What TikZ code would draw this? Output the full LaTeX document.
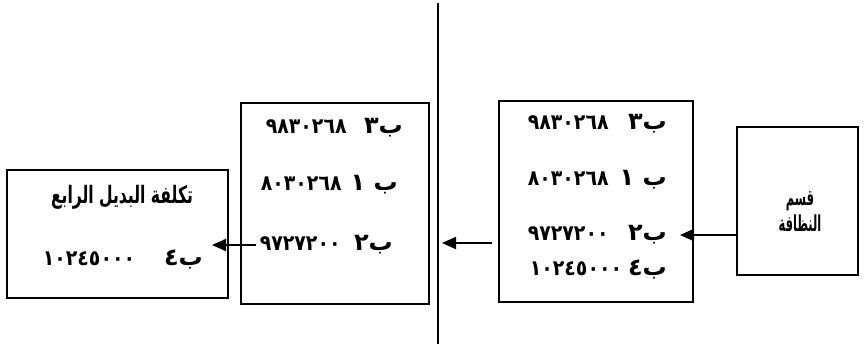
\documentclass[tikz,border=0pt]{standalone}
\usepackage{fontspec}
\usetikzlibrary{arrows.meta}
\TeXXeTstate=1
\newfontfamily\arabicfont[Script=Arabic]{DejaVu Sans}
\newfontfamily\arabicnum[Script=Arabic,FakeStretch=0.88]{DejaVu Sans}
\newfontfamily\arabictitle[Script=Arabic,FakeStretch=0.65]{DejaVu Sans}
\newfontfamily\arabicdept[Script=Arabic,FakeStretch=0.52]{DejaVu Sans}
% cost figures in a slightly smaller, condensed face
\newcommand{\cost}[1]{{\arabicnum\fontsize{21.5}{24}\selectfont\beginL #1\endL}}
\begin{document}
\begin{tikzpicture}[x=1pt,y=-1pt,
  box/.style={draw,line width=2pt,minimum width=#1},
  txt/.style={inner sep=0pt,anchor=east,font=\arabicfont\bfseries\fontsize{24}{26}\selectfont},
  dept/.style={inner sep=0pt,font=\arabicdept\bfseries\fontsize{22}{22}\selectfont},
  title/.style={inner sep=0pt,font=\arabictitle\bfseries\fontsize{24}{24}\selectfont},
  arr/.style={line width=2pt,-{Triangle[length=14pt,width=12pt]}}]
\useasboundingbox (0,0) rectangle (864,346);
% boxes
\node[box=221pt,minimum height=128pt] (box1) at (117.5,234) {};
\node[box=188pt,minimum height=201pt] (box2) at (335,203.5) {};
\node[box=194pt,minimum height=201pt] (box3) at (596,201.5) {};
\node[box=121pt,minimum height=148pt] (box4) at (797.5,201) {};
% divider
\coordinate (dtop) at (438,3);
\coordinate (dbot) at (438,344);
\draw[line width=2.4pt] (dtop) -- (dbot);
% department box
\node[dept] (d1) at (800,201) {\beginR قسم\endR};
\node[dept] (d2) at (800,223) {\beginR النظافة\endR};
% first list: alternative code at the right, its cost at the left
\node[txt] (c1) at (667,124) {\hbox to 139pt{\beginR ب٣\hfill\cost{٩٨٣٠٢٦٨}\endR}};
\node[txt] (c2) at (667,180) {\hbox to 139pt{\beginR ب ١\hfill\cost{٨٠٣٠٢٦٨}\endR}};
\node[txt] (c3) at (667,235) {\hbox to 139pt{\beginR ب٢\hfill\cost{٩٧٢٧٢٠٠}\endR}};
\node[txt] (c4) at (667,270) {\hbox to 137pt{\beginR ب٤\hfill\cost{١٠٢٤٥٠٠٠}\endR}};
% second list
\node[txt] (b1) at (403,128) {\hbox to 137pt{\beginR ب٣\hfill\cost{٩٨٣٠٢٦٨}\endR}};
\node[txt] (b2) at (398,185) {\hbox to 137pt{\beginR ب ١\hfill\cost{٨٠٣٠٢٦٨}\endR}};
\node[txt] (b3) at (393,245) {\hbox to 133pt{\beginR ب٢\hfill\cost{٩٧٢٧٢٠٠}\endR}};
% result box
\node[title] (r1) at (122,197) {\beginR تكلفة البديل الرابع\endR};
\node[txt] (r2) at (203,260) {\hbox to 160pt{\beginR ب٤\hfill\cost{١٠٢٤٥٠٠٠}\endR}};
% connectors
\draw[arr] (box4.west |- c3) -- ([xshift=-14pt]box3.east |- c3);
\draw[arr,shorten <=6pt,shorten >=4pt] (box3.west |- 0,243) -- (dtop |- 0,243);
\draw[arr,shorten <=4pt] (b3.west) -- ([xshift=-17pt]box1.east |- b3);
\end{tikzpicture}
\end{document}
